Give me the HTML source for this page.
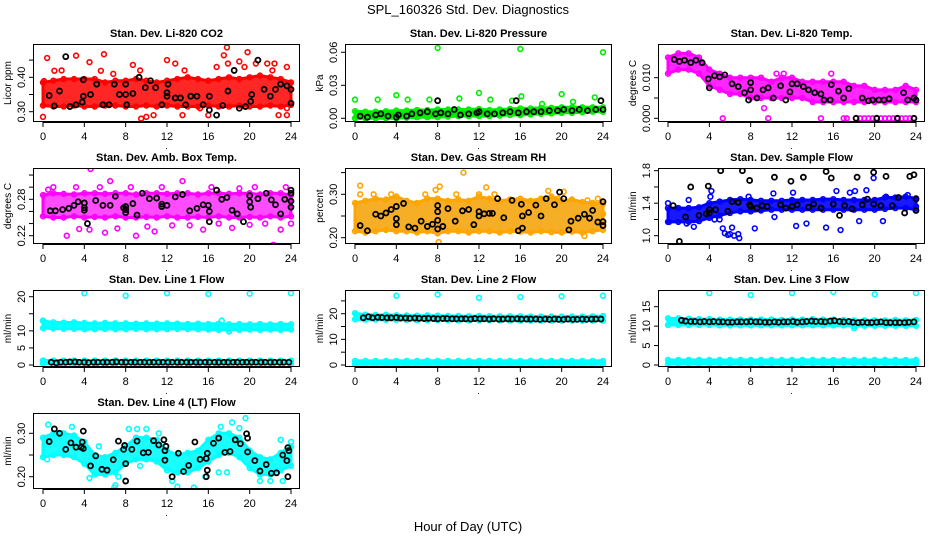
<!DOCTYPE html>
<html><head><meta charset="utf-8"><style>
html,body{margin:0;padding:0;background:#fff;}
svg{display:block;font-family:"Liberation Sans",Arial,sans-serif;}
</style></head><body>
<svg id="chart" width="936" height="540" viewBox="0 0 936 540" xmlns="http://www.w3.org/2000/svg">
<text x="468" y="14" text-anchor="middle" font-size="13">SPL_160326  Std. Dev. Diagnostics</text>
<text x="468" y="531" text-anchor="middle" font-size="13">Hour of Day (UTC)</text>
</svg>
<script>
const bandHours=[0,1,2,3,4,5,6,7,8,9,10,11,12,13,14,15,16,17,18,19,20,21,22,23,24];
const hourTicks=[0,4,8,12,16,20,24];

// CO2
const co2Lo=[.318,.315,.315,.318,.315,.315,.318,.318,.315,.315,.318,.315,.318,.315,.315,.315,.318,.315,.315,.318,.315,.315,.318,.315,.32];
const co2Hi=[.385,.39,.395,.395,.395,.395,.385,.39,.39,.395,.39,.385,.39,.395,.40,.395,.39,.395,.40,.395,.40,.405,.40,.395,.385];
const co2OutX=[0.1,0,0.4,1.1,1.8,3.2,4.5,5.6,5.9,6.8,8.7,9.4,9.5,10,10.7,12,12.8,13.5,13.7,15.2,16,16.8,17.5,17.8,17.9,19,19.5,19.8,20.6,21.7,22.2,22.4,22.8,23.6,23.6,23.6,24];
const co2OutY=[.389,.285,.456,.419,.42,.463,.444,.419,.467,.41,.436,.42,.28,.285,.29,.45,.44,.29,.42,.31,.29,.43,.464,.487,.44,.446,.43,.473,.44,.44,.42,.44,.29,.43,.29,.31,.325];
const co2BlkX=[0.6,1.1,1.6,2.2,2.6,3.2,3.8,3.9,3.9,4.6,5.2,5.8,6.4,6.9,7.4,8,8,8.1,8.7,9.3,9.9,10.4,10.9,11.5,12,12.1,12,12.8,13.3,13.8,14.3,14.9,15.5,16.1,16.1,16.8,17.4,17.9,18.5,19,19.6,20.1,20.2,20.8,21.4,22,22.5,23,23.6,24,24];
const co2BlkY=[.347,.317,.36,.46,.315,.32,.328,.345,.393,.35,.38,.32,.32,.38,.35,.35,.38,.32,.353,.40,.37,.39,.37,.32,.345,.38,.355,.34,.34,.32,.345,.345,.32,.345,.305,.29,.318,.36,.42,.31,.315,.33,.35,.45,.365,.345,.365,.38,.375,.365,.325];

// Pressure
const presLo=[0,0,0,0,0,0.0005,0.001,0.001,0.001,0.0015,0.002,0.002,0.002,0.002,0.0025,0.003,0.003,0.0035,0.004,0.0045,0.005,0.005,0.0055,0.006,0.006];
const presHi=[0.0065,0.006,0.006,0.0065,0.007,0.007,0.0075,0.0075,0.008,0.008,0.008,0.008,0.0085,0.0075,0.008,0.0085,0.009,0.009,0.0095,0.0095,0.01,0.01,0.01,0.01,0.01];
const presOutX=[0,2.2,4,5.1,7.2,8,10.1,12,13.1,15.2,16,16.1,18.1,20,21.1,23.2,24];
const presOutY=[0.017,0.017,0.021,0.017,0.017,0.064,0.018,0.023,0.017,0.016,0.063,0.020,0.013,0.022,0.015,0.019,0.060];
const presBlkX=[0.5,1.2,2,2.5,3.2,4,4.2,5,5.5,6.3,7,7.8,8,8.3,9,9.6,10.2,11,11.8,12,12.8,13.5,14.3,15,15.6,15.8,16.6,17.3,18,18.8,19.6,20.2,21,21.7,22.5,23.3,23.8,24];
const presBlkY=[0.002,0.001,0.003,0.004,0.002,0.001,0.003,0.002,0.004,0.005,0.006,0.004,0.016,0.005,0.004,0.008,0.003,0.004,0.005,0.006,0.004,0.004,0.005,0.006,0.016,0.005,0.006,0.006,0.006,0.007,0.007,0.008,0.007,0.008,0.007,0.008,0.016,0.008];

// Li-820 Temp
const tempLo=[0.011,0.012,0.012,0.011,0.008,0.007,0.006,0.006,0.005,0.005,0.005,0.005,0.005,0.005,0.004,0.004,0.004,0.004,0.004,0.004,0.004,0.004,0.004,0.004,0.004];
const tempHi=[0.015,0.016,0.016,0.015,0.012,0.011,0.010,0.010,0.010,0.010,0.009,0.010,0.010,0.009,0.009,0.009,0.009,0.009,0.008,0.008,0.007,0.007,0.007,0.008,0.007];
const tempOutX=[5.3,9.7,14.8,17,17.3,18.2,18.6,19,19.4,19.8,20.2,20.6,21,21.4,21.8,22.2,22.6,23,23.4,23.8,9.3,10.5,11.2,15.8];
const tempOutY=[0,0,0,0,0,0,0,0,0,0,0,0,0,0,0,0,0,0,0,0,0.0025,0.011,0.011,0.011];
const tempBlkX=[0.6,1.1,1.6,2.2,2.7,3.3,3.9,4,4.5,5,5.5,6.2,6.8,7.4,7.8,8,8,8.6,9.2,9.7,10.2,10.9,11.4,11.8,12,12.5,13.1,13.6,14.2,14.8,15.1,15.7,15.8,16.5,17,17.5,18.2,18.8,19.4,19.8,20.2,20.4,20.9,21.4,22.2,22.8,23.2,23.8,23.8,24];
const tempBlkY=[0.0145,0.014,0.0143,0.0137,0.0143,0.0137,0.0097,0.0075,0.0105,0.0102,0.0107,0.0085,0.0078,0.0063,0.0045,0.0088,0.007,0.005,0.007,0.0075,0.005,0.008,0.0045,0.0065,0.0085,0.0085,0.0078,0.007,0.0063,0.006,0.0045,0.0045,0.0083,0.0067,0.005,0.0073,0,0.005,0.0043,0.0045,0,0.0045,0.0045,0.0048,0,0.0063,0.0045,0,0.005,0.0045];

// Amb Box Temp
const ambLo=[0.252,0.25,0.25,0.252,0.25,0.251,0.25,0.252,0.25,0.25,0.251,0.25,0.252,0.25,0.25,0.251,0.25,0.252,0.25,0.25,0.251,0.25,0.252,0.25,0.252];
const ambHi=[0.287,0.29,0.289,0.288,0.29,0.29,0.289,0.29,0.29,0.288,0.29,0.29,0.289,0.29,0.29,0.288,0.29,0.29,0.289,0.29,0.29,0.288,0.29,0.29,0.287];
const ambOutX=[0.5,1,2.3,3.2,3.5,4.5,4.6,5.5,6,6.5,7.2,8.5,9,10.1,10.8,11.5,12.5,13.5,14.2,15.5,16.3,17,18.3,19,20,20.5,21.5,22.3,23,23.5,24];
const ambOutY=[0.296,0.30,0.22,0.30,0.231,0.23,0.33,0.30,0.225,0.31,0.232,0.30,0.22,0.235,0.227,0.30,0.237,0.31,0.237,0.23,0.30,0.24,0.233,0.298,0.238,0.30,0.24,0.205,0.23,0.30,0.24];
const ambBlkX=[0.7,1.2,1.9,2.5,3,3.4,4,4,4,4.3,5.1,5.8,6.5,7,7.8,8,8,8,8.7,9.1,9.6,10.3,11,11.5,11.5,12,12.8,13.5,14.2,14.9,15.5,16,16.1,16.1,16.8,17.3,17.8,18.3,18.8,19.4,20,20,20.1,20.8,21.6,22.1,22.5,23,23.4,24,24,24,24];
const ambBlkY=[0.261,0.261,0.263,0.265,0.27,0.276,0.274,0.266,0.262,0.24,0.278,0.27,0.27,0.285,0.266,0.268,0.263,0.258,0.273,0.254,0.29,0.281,0.282,0.272,0.268,0.27,0.284,0.288,0.261,0.265,0.271,0.27,0.26,0.243,0.295,0.28,0.283,0.262,0.256,0.243,0.286,0.276,0.267,0.281,0.29,0.279,0.271,0.256,0.28,0.29,0.295,0.277,0.267];

// Gas Stream RH
const rhLo=[0.215,0.212,0.215,0.218,0.215,0.215,0.212,0.215,0.21,0.215,0.215,0.212,0.215,0.215,0.212,0.215,0.214,0.212,0.215,0.213,0.212,0.214,0.212,0.215,0.218];
const rhHi=[0.28,0.285,0.29,0.288,0.295,0.285,0.28,0.29,0.29,0.285,0.288,0.285,0.295,0.29,0.285,0.288,0.29,0.285,0.29,0.295,0.285,0.288,0.282,0.28,0.278];
const rhOutX=[0.5,0.5,1.8,3.5,6.8,7.8,8.1,8.2,9.8,10.5,12,12.7,13.5,18.7,19.6,20.2,22.2,22.5,23.5,24];
const rhOutY=[0.32,0.30,0.30,0.30,0.30,0.31,0.19,0.318,0.30,0.35,0.30,0.316,0.30,0.308,0.29,0.306,0.204,0.286,0.29,0.255];
const rhBlkX=[0.5,1.2,2,2.5,3,3.5,4,4,4,4.7,5.2,5.8,6.4,7,7.5,8,8,8,8,8.5,9,9.7,10.4,11,11.5,12,12,12.5,13,13.3,13.8,14.4,15.2,15.8,16.1,16.2,16.2,16.8,17.5,18,18.5,19.3,19.8,20.2,20.7,20.9,21.6,22.2,22.7,23,23.5,24,24,24];
const rhBlkY=[0.228,0.216,0.254,0.25,0.257,0.265,0.272,0.244,0.23,0.279,0.225,0.222,0.238,0.226,0.231,0.274,0.26,0.24,0.22,0.226,0.267,0.238,0.262,0.265,0.23,0.26,0.25,0.255,0.256,0.256,0.29,0.246,0.286,0.216,0.277,0.25,0.222,0.258,0.275,0.25,0.29,0.276,0.305,0.29,0.218,0.238,0.245,0.254,0.245,0.263,0.236,0.283,0.237,0.228];

// Sample Flow
const flowLo=[1.17,1.17,1.17,1.18,1.22,1.25,1.28,1.30,1.30,1.31,1.32,1.32,1.32,1.32,1.32,1.32,1.32,1.32,1.32,1.32,1.32,1.33,1.34,1.34,1.32];
const flowHi=[1.34,1.34,1.34,1.35,1.40,1.42,1.44,1.45,1.44,1.43,1.43,1.43,1.44,1.44,1.44,1.45,1.45,1.44,1.44,1.44,1.44,1.47,1.47,1.48,1.46];
const flowOutX=[0,0.1,1.8,2,2.5,4.2,4.1,4.5,5,5.3,5.5,5.8,6,6.2,6.4,6.8,6.9,7.8,8.4,10.2,10.3,12.1,12.4,13.4,15.3,16.3,16.7,17.6,18.1,18.5,19.2,19.9,20.8,21.1,23.2,24];
const flowOutY=[1.40,1.17,1.15,1.44,1.11,1.55,1.48,1.2,1.2,1.09,1.03,1.01,1.02,1.10,1.0,1.02,0.97,1.48,1.09,1.52,1.23,1.53,1.12,1.15,1.10,1.55,1.07,1.53,1.55,1.18,1.56,1.71,1.18,1.48,1.50,1.36];
const flowBlkX=[0.5,1.1,1.7,2.2,3,3.7,3.9,4,4,4.6,5.1,5.8,6.2,6.8,7.2,7.9,7.9,8,8.6,9.1,9.6,10.3,10.9,11.4,11.9,12,12.5,13.1,13.6,14.1,14.8,15.3,15.8,16,16.6,17.1,17.8,18.3,18.8,19.3,19.9,19.9,20.6,21.1,21.7,22.3,22.9,23.4,23.8,24,24];
const flowBlkY=[1.37,0.93,1.23,1.60,1.25,1.27,1.61,1.28,1.32,1.32,1.80,1.30,1.42,1.41,1.80,1.68,1.38,1.36,1.34,1.37,1.36,1.72,1.38,1.34,1.67,1.36,1.38,1.72,1.35,1.39,1.34,1.79,1.71,1.39,1.25,1.37,1.33,1.72,1.38,1.45,1.78,1.39,1.37,1.73,1.37,1.47,1.28,1.73,1.75,1.45,1.31];

// Line flows shared black-point hours
const lineHours=[0.8,1.3,1.7,2.2,2.6,3.1,3.5,4,4.4,4.9,5.3,5.8,6.2,6.7,7.1,7.6,8,8.5,8.9,9.4,9.8,10.3,10.7,11.2,11.6,12.1,12.5,13,13.4,13.9,14.3,14.8,15.2,15.7,16.1,16.6,17,17.5,17.9,18.4,18.8,19.3,19.7,20.2,20.6,21.1,21.5,22,22.4,22.9,23.3,23.8];
// Line 1
const l1Lo=[10.8,10.7,10.6,10.6,10.5,10.5,10.6,10.5,10.5,10.6,10.5,10.5,10.5,10.6,10.5,10.5,10.4,10.3,10.4,10.3,10.4,10.3,10.4,10.3,10.4];
const l1Hi=[12.9,12.5,12.4,12.5,12.3,12.2,12.3,12.2,12.2,12.1,12.2,12.1,12.2,12.1,12.0,12.1,12.0,12.1,11.9,12.0,11.9,12.0,11.9,12.0,11.9];
const l1LowLo=[0.4,0.4,0.4,0.4,0.4,0.4,0.4,0.4,0.4,0.4,0.4,0.4,0.4,0.4,0.4,0.4,0.4,0.4,0.4,0.4,0.4,0.4,0.4,0.4,0.4];
const l1LowHi=[1.3,1.3,1.3,1.3,1.3,1.3,1.3,1.3,1.3,1.3,1.3,1.3,1.3,1.3,1.3,1.3,1.3,1.3,1.3,1.3,1.3,1.3,1.3,1.3,1.3];
const l1OutX=[0,4,8,12,16,17.3,18,20,24];
const l1OutY=[13,21,20.3,21,20.8,13,9.8,20.9,21];
const l1Blk=[0.8,0.6,0.8,0.8,0.9,0.9,0.8,0.8,0.7,0.8,0.8,0.8,0.8,0.8,0.9,0.8,0.8,0.8,0.8,0.8,0.8,0.8,0.8,0.8,0.8,0.8,0.8,0.8,0.8,0.8,0.8,0.8,0.8,0.8,0.8,0.8,0.8,0.8,0.8,0.8,0.8,0.8,0.8,0.8,0.8,0.8,0.8,0.8,0.8,0.8,0.8,0.8];
// Line 2
const l2Lo=[17.8,17.7,17.7,17.6,17.6,17.6,17.5,17.5,17.5,17.5,17.4,17.4,17.4,17.4,17.4,17.3,17.3,17.3,17.3,17.3,17.3,17.3,17.3,17.3,17.3];
const l2Hi=[20.2,19.6,19.5,19.6,19.4,19.3,19.2,19.3,19.2,19.1,19.1,19.0,19.1,19.0,19.0,19.0,19.0,18.9,18.9,18.9,18.9,18.9,18.9,19.0,19.1];
const l2LowLo=[0.3,0.3,0.3,0.3,0.3,0.3,0.3,0.3,0.3,0.3,0.3,0.3,0.3,0.3,0.3,0.3,0.3,0.3,0.3,0.3,0.3,0.3,0.3,0.3,0.3];
const l2LowHi=[1.6,1.6,1.6,1.6,1.6,1.6,1.6,1.7,1.6,1.6,1.6,1.6,1.6,1.6,1.6,1.6,1.6,1.6,1.6,1.6,1.6,1.6,1.6,1.6,1.6];
const l2OutX=[4,8,12,16,20,24];
const l2OutY=[27,27.5,26.2,26.5,26.8,27];
const l2Blk=[18.4,18.8,18.4,18.6,18.5,18.4,18.4,18.5,18.3,18.3,18.2,18.3,18.2,18.1,18.2,18.1,18.0,18.1,18.1,18.0,18.0,18.0,18.0,17.9,18.1,18.0,18.0,17.9,18.0,17.9,17.9,18.0,17.9,18.0,17.9,17.9,17.9,17.9,17.8,17.9,17.8,17.9,17.8,17.8,17.9,17.8,17.8,17.9,17.8,17.9,17.9,17.9];
// Line 3
const l3Lo=[10.3,10.3,10.3,10.3,10.3,10.2,10.2,10.2,10.2,10.2,10.2,10.2,10.2,10.2,10.2,10.2,10.2,10.2,10.0,10.1,10.1,10.1,10.1,10.1,10.1];
const l3Hi=[12.0,12.0,11.9,11.8,11.8,11.7,11.7,11.7,11.7,11.7,11.7,11.6,11.7,11.7,11.8,11.7,11.7,11.6,11.5,11.5,11.5,11.5,11.6,11.5,11.6];
const l3LowLo=[0.3,0.3,0.3,0.3,0.3,0.3,0.3,0.3,0.3,0.3,0.3,0.3,0.3,0.3,0.3,0.3,0.3,0.3,0.3,0.3,0.3,0.3,0.3,0.3,0.3];
const l3LowHi=[1.3,1.3,1.3,1.3,1.3,1.3,1.3,1.3,1.3,1.3,1.3,1.3,1.3,1.3,1.3,1.3,1.3,1.3,1.3,1.3,1.3,1.3,1.3,1.3,1.3];
const l3OutX=[4,8,12,16,18,20,24];
const l3OutY=[18.5,18,18.5,18.8,9.5,18.2,18.5];
const l3Blk=[11.3,11.5,11.3,11.2,11.2,11.1,11.2,11.1,11.2,11.1,11.1,11.0,11.0,11.1,11.1,11.1,11.2,11.1,11.1,11.0,11.0,11.1,11.0,11.1,11.1,11.2,11.0,11.1,11.2,11.3,11.2,11.2,11.1,11.3,11.4,11.2,11.1,11.2,11.0,10.9,11.0,10.9,10.9,11.0,11.1,10.9,10.9,10.9,10.9,10.9,11.0,11.1];

// Line 4
const l4Lo=[0.245,0.25,0.25,0.245,0.23,0.205,0.205,0.21,0.23,0.24,0.24,0.235,0.215,0.21,0.21,0.22,0.235,0.25,0.255,0.245,0.22,0.205,0.205,0.215,0.225];
const l4Hi=[0.29,0.30,0.30,0.295,0.28,0.25,0.245,0.255,0.27,0.29,0.29,0.285,0.26,0.25,0.255,0.26,0.285,0.30,0.30,0.29,0.26,0.245,0.24,0.255,0.27];
const l4OutX=[0.5,0.4,2.8,4.5,5.4,6.9,7,7.3,8.3,9.1,9.4,10,11.2,12.5,13,14.6,15.7,17,17.2,17.8,18.3,19,19.6,21,22,23,23.2,24];
const l4OutY=[0.32,0.24,0.315,0.197,0.27,0.175,0.18,0.2,0.31,0.31,0.225,0.31,0.3,0.19,0.177,0.175,0.2,0.21,0.315,0.21,0.325,0.312,0.335,0.19,0.19,0.285,0.19,0.28];
const l4BlkX=[0.6,1.1,1.6,2.2,2.7,3.2,3.7,3.8,3.9,3.9,4.6,5.1,5.7,6.2,6.8,7.3,7.8,7.9,8,8,8.6,9.1,9.7,10.2,10.7,11.2,11.7,11.8,11.8,11.9,12.5,13.1,13.6,14.1,14.7,15.2,15.8,15.8,15.9,15.9,16.5,17,17.6,18.1,18.6,19.1,19.7,19.8,19.8,20.5,21,21.6,22.1,22.6,23.2,23.6,23.7,23.8,23.7];
const l4BlkY=[0.281,0.31,0.30,0.263,0.278,0.268,0.268,0.28,0.305,0.265,0.225,0.248,0.217,0.215,0.239,0.282,0.263,0.272,0.23,0.19,0.263,0.282,0.255,0.256,0.283,0.273,0.285,0.26,0.238,0.27,0.2,0.254,0.212,0.226,0.28,0.24,0.242,0.2,0.215,0.254,0.277,0.289,0.256,0.258,0.285,0.276,0.299,0.289,0.257,0.237,0.213,0.228,0.208,0.209,0.25,0.237,0.267,0.26,0.2];

const svg=document.getElementById('chart');
const NS='http://www.w3.org/2000/svg';
function mk(tag,attrs,parent){const e=document.createElementNS(NS,tag);for(const k in attrs)e.setAttribute(k,attrs[k]);(parent||svg).appendChild(e);return e;}

const colL=[33,345,658], rowT=[44,168,290,413], rowB=[122,244,367,489];

const panels=[
 {name:'co2',title:'Stan. Dev. Li-820 CO2',ylab:'Licor ppm',c:0,r:0,v1:0.30,p1:111.7,v2:0.40,p2:77.3,ticks:[0.30,0.35,0.40,0.45],labels:['0.30','','0.40',''],color:'#ff0000',fill:'#ff0000',op:0.85,bands:[[co2Lo,co2Hi]],outX:co2OutX,outY:co2OutY,blkX:co2BlkX,blkY:co2BlkY},
 {name:'pressure',title:'Stan. Dev. Li-820 Pressure',ylab:'kPa',c:1,r:0,v1:0,p1:118.3,v2:0.06,p2:52.3,ticks:[0,0.03,0.06],labels:['0.00','0.03','0.06'],color:'#00ee00',fill:'#00e000',op:1,bands:[[presLo,presHi]],outX:presOutX,outY:presOutY,blkX:presBlkX,blkY:presBlkY},
 {name:'li820-temp',title:'Stan. Dev. Li-820 Temp.',ylab:'degrees C',c:2,r:0,v1:0,p1:118.3,v2:0.010,p2:77.7,ticks:[0,0.005,0.010],labels:['0.000','','0.010'],color:'#ff00ff',fill:'#ff00ff',op:0.85,bands:[[tempLo,tempHi]],outX:tempOutX,outY:tempOutY,blkX:tempBlkX,blkY:tempBlkY},
 {name:'amb-box-temp',title:'Stan. Dev. Amb. Box Temp.',ylab:'degrees C',c:0,r:1,v1:0.22,p1:235.7,v2:0.28,p2:199.3,ticks:[0.22,0.24,0.26,0.28,0.30,0.32],labels:['0.22','','','0.28','',''],color:'#ff00ff',fill:'#ff00ff',op:0.7,bands:[[ambLo,ambHi]],outX:ambOutX,outY:ambOutY,blkX:ambBlkX,blkY:ambBlkY},
 {name:'gas-stream-rh',title:'Stan. Dev. Gas Stream RH',ylab:'percent',c:1,r:1,v1:0.20,p1:237.7,v2:0.30,p2:194.3,ticks:[0.20,0.25,0.30,0.35],labels:['0.20','','0.30',''],color:'#ffa500',fill:'#f4a000',op:0.85,bands:[[rhLo,rhHi]],outX:rhOutX,outY:rhOutY,blkX:rhBlkX,blkY:rhBlkY},
 {name:'sample-flow',title:'Stan. Dev. Sample Flow',ylab:'ml/min',c:2,r:1,v1:1.0,p1:235.7,v2:1.8,p2:170.7,ticks:[1.0,1.2,1.4,1.6,1.8],labels:['1.0','','1.4','','1.8'],color:'#0000ff',fill:'#0000ff',op:0.9,bands:[[flowLo,flowHi]],outX:flowOutX,outY:flowOutY,blkX:flowBlkX,blkY:flowBlkY},
 {name:'line1-flow',title:'Stan. Dev. Line 1 Flow',ylab:'ml/min',c:0,r:2,v1:0,p1:365,v2:20,p2:296.7,ticks:[0,5,10,15,20],labels:['0','5','10','','20'],color:'#00ffff',fill:'#00ffff',op:0.95,bands:[[l1Lo,l1Hi],[l1LowLo,l1LowHi]],outX:l1OutX,outY:l1OutY,blkX:lineHours,blkY:l1Blk},
 {name:'line2-flow',title:'Stan. Dev. Line 2 Flow',ylab:'ml/min',c:1,r:2,v1:0,p1:365,v2:20,p2:313.7,ticks:[0,5,10,15,20,25],labels:['0','','10','','20',''],color:'#00ffff',fill:'#00ffff',op:0.95,bands:[[l2Lo,l2Hi],[l2LowLo,l2LowHi]],outX:l2OutX,outY:l2OutY,blkX:lineHours,blkY:l2Blk},
 {name:'line3-flow',title:'Stan. Dev. Line 3 Flow',ylab:'ml/min',c:2,r:2,v1:0,p1:365,v2:15,p2:306.7,ticks:[0,5,10,15],labels:['0','5','10','15'],color:'#00ffff',fill:'#00ffff',op:0.95,bands:[[l3Lo,l3Hi],[l3LowLo,l3LowHi]],outX:l3OutX,outY:l3OutY,blkX:lineHours.slice(1),blkY:l3Blk.slice(1)},
 {name:'line4-flow',title:'Stan. Dev. Line 4 (LT) Flow',ylab:'ml/min',c:0,r:3,v1:0.20,p1:476.7,v2:0.30,p2:433.3,ticks:[0.20,0.25,0.30],labels:['0.20','','0.30'],color:'#00ffff',fill:'#00ffff',op:0.9,bands:[[l4Lo,l4Hi]],outX:l4OutX,outY:l4OutY,blkX:l4BlkX,blkY:l4BlkY}
];

panels.forEach(p=>{
  const L=colL[p.c], R=L+267, T=rowT[p.r], B=rowB[p.r];
  const xs=h=>L+10+h*10.333;
  const ys=v=>p.p1+(v-p.v1)*(p.p2-p.p1)/(p.v2-p.v1);
  const g=mk('g',{});
  
  
  const cid='clip-'+p.name;
  const cp=mk('clipPath',{id:cid},g);
  mk('rect',{x:L,y:T,width:R-L,height:B-T},cp);
  const plot=mk('g',{'clip-path':'url(#'+cid+')'},g);
  
  
  p.bands.forEach((bd,bi)=>{
    const lo=bd[0],hi=bd[1];
    let pts=[];
    bandHours.forEach((h,i)=>pts.push(xs(h)+','+ys(hi[i])));
    for(let i=bandHours.length-1;i>=0;i--)pts.push(xs(bandHours[i])+','+ys(lo[i]));
    const poly=mk('polygon',{points:pts.join(' '),fill:p.fill,'fill-opacity':p.op,stroke:p.color,'stroke-width':3,'stroke-linejoin':'round'},plot);
    
    
    bandHours.forEach((h,i)=>{
      [lo[i],hi[i]].forEach(v=>{
        const c=mk('circle',{cx:xs(h),cy:ys(v),r:2.4,fill:'none',stroke:p.color,'stroke-width':1.6},plot);
        
        
      });
    });
  });
  p.outX.forEach((h,i)=>{
    const c=mk('circle',{cx:xs(h),cy:ys(p.outY[i]),r:2.4,fill:'none',stroke:p.color,'stroke-width':1.6},plot);
    
    
  });
  p.blkX.forEach((h,i)=>{
    const c=mk('circle',{cx:xs(h),cy:ys(p.blkY[i]),r:2.5,fill:'none',stroke:'#000','stroke-width':1.8},plot);
    
    
  });
  const box=mk('rect',{x:L+0.5,y:T+0.5,width:R-L-1,height:B-T-1,fill:'none',stroke:'#000','stroke-width':1},g);
  
  
  const t=mk('text',{x:(L+R)/2,y:T-7,'text-anchor':'middle','font-size':11,'font-weight':'bold'},g);
  t.textContent=p.title;
  
  
  const xa=mk('g',{},g);
  
  
  mk('line',{x1:xs(hourTicks[0]),x2:xs(hourTicks[hourTicks.length-1]),y1:B+0.5,y2:B+0.5,stroke:'#000'},xa);
  hourTicks.forEach(h=>{
    mk('line',{x1:xs(h),x2:xs(h),y1:B,y2:B+5,stroke:'#000'},xa);
    const tl=mk('text',{x:xs(h),y:B+18,'text-anchor':'middle','font-size':11},xa);
    tl.textContent=h;
    
    
  });
  const dot=mk('text',{x:(L+R)/2,y:B+27,'text-anchor':'middle','font-size':9},xa);
  dot.textContent='.';
  const ya=mk('g',{},g);
  
  
  mk('line',{x1:L+0.5,x2:L+0.5,y1:ys(p.ticks[0]),y2:ys(p.ticks[p.ticks.length-1]),stroke:'#000'},ya);
  p.ticks.forEach((v,i)=>{
    const y=ys(v);
    mk('line',{x1:L-4,x2:L,y1:y,y2:y,stroke:'#000'},ya);
    if(p.labels[i]){
      const tl=mk('text',{x:L-8,y:y,'text-anchor':'middle','font-size':11,transform:'rotate(-90 '+(L-8)+' '+y+')'},ya);
      tl.textContent=p.labels[i];
      
      
    }
  });
  const yl=mk('text',{x:L-22,y:(T+B)/2,'text-anchor':'middle','font-size':10,transform:'rotate(-90 '+(L-22)+' '+((T+B)/2)+')'},g);
  yl.textContent=p.ylab;
  
  
});
</script>
</body></html>
